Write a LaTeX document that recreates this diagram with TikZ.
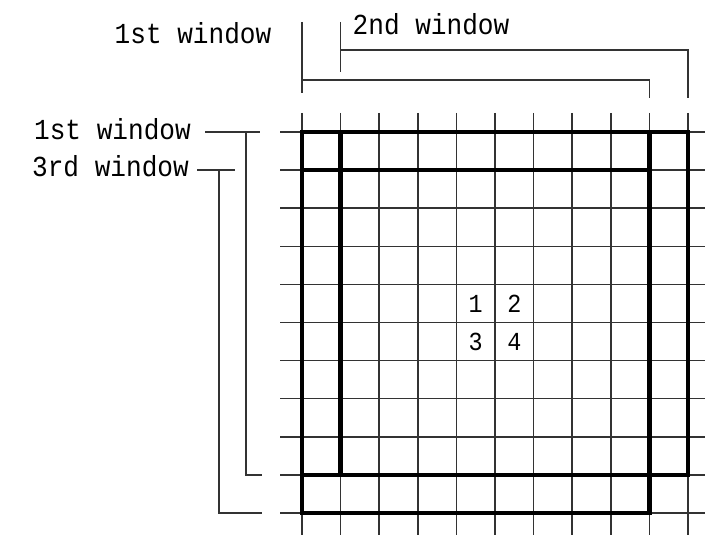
\documentclass[tikz,border=0pt]{standalone}
\usepackage{fontspec}
\setmonofont{Liberation Mono}[FakeStretch=0.9]
\usepackage{tikz}
\usetikzlibrary{positioning, calc}
\tikzset{
  gridline/.style={line width=1.5pt, color=black!80},
  winline/.style={line width=4.5pt, color=black},
  bracket/.style={line width=1.4pt, color=black!80},
  lbl/.style={font=\ttfamily\fontsize{29}{29}\selectfont, inner sep=0pt},
  cellnum/.style={font=\ttfamily\fontsize{26}{26}\selectfont, inner sep=0pt}
}

\begin{document}
\begin{tikzpicture}[x=1pt, y=-1pt]
  \useasboundingbox (0,0) rectangle (705,535);

  % Grid corners and cell centres
  \foreach \i in {0,...,10}
    \coordinate (c\i) at ({302+38.6*\i},{132+38.1*\i});
  \foreach \i in {0,...,9}
    \coordinate (m\i) at ({302+38.6*(\i+0.5)},{132+38.1*(\i+0.5)});
  \coordinate (gtop) at (0,113);
  \coordinate (gbot) at (0,535);
  \coordinate (gleft) at (280,0);
  \coordinate (gright) at (705,0);

  % Grid
  \foreach \i in {0,...,10} {
    \draw[gridline] (c\i |- gtop) -- (c\i |- gbot);
    \draw[gridline] (c\i -| gleft) -- (c\i -| gright);
  }

  % Windows
  \draw[winline] (c0) rectangle (c9);
  \draw[winline] (c1 |- c0) rectangle (c10 |- c9);
  \draw[winline] (c0 |- c1) rectangle (c9 |- c10);

  % Cell numbers
  \node[cellnum] (n1) at (m4) {1};
  \node[cellnum] (n2) at (m5 |- m4) {2};
  \node[cellnum] (n3) at (m4 |- m5) {3};
  \node[cellnum] (n4) at (m5) {4};

  % Labels
  \node[lbl] (top1) at (193,33) {1st window};
  \node[lbl] (top2) at (431,24) {2nd window};
  \node[lbl, anchor=east] (left1) at (191,129) {1st window};
  \node[lbl, anchor=east] (left3) at (189,166) {3rd window};

  % Top brackets
  \coordinate (b1) at (0,80);
  \coordinate (b2) at (0,50);
  \draw[bracket] (c0 |- 0,22) -- (c0 |- 0,93);
  \draw[bracket] (c0 |- b1) -- (c9 |- b1) -- (c9 |- 0,98);
  \draw[bracket] (c1 |- 0,22) -- (c1 |- 0,72);
  \draw[bracket] (c1 |- b2) -- (c10 |- b2) -- (c10 |- 0,98);

  % Left brackets
  \coordinate (e1) at ($(left1.east)+(14,0)$);
  \coordinate (e3) at ($(left3.east)+(8,0)$);
  \coordinate (s1) at (246,0);
  \coordinate (s3) at (219,0);
  \draw[bracket] (e1 |- c0) -- (c0 -| 260,0);
  \draw[bracket] (c0 -| s1) -- (c9 -| s1) -- (c9 -| 262,0);
  \draw[bracket] (e3 |- c1) -- (c1 -| 235,0);
  \draw[bracket] (c1 -| s3) -- (c10 -| s3) -- (c10 -| 262,0);
\end{tikzpicture}
\end{document}
